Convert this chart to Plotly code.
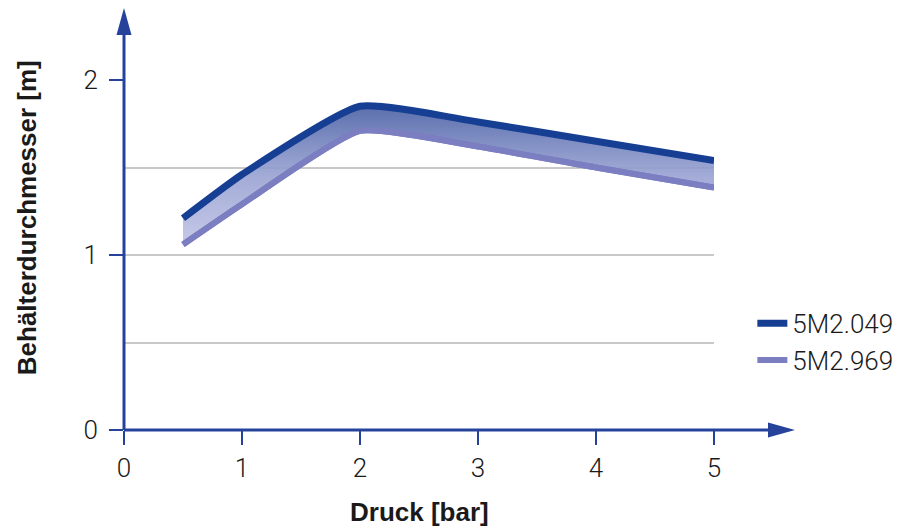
import plotly.graph_objects as go

# data
pressure = [0.5, 1, 2, 3, 4, 5]
diam_5m2_049 = [1.21, 1.46, 1.85, 1.76, 1.65, 1.54]
diam_5m2_969 = [1.06, 1.29, 1.71, 1.62, 1.50, 1.385]
series_names = ["5M2.049", "5M2.969"]
x_ticks = [0, 1, 2, 3, 4, 5]
y_ticks = [0, 1, 2]
y_minor = [0.5, 1.5]

AXIS_BLUE = "#27429b"
DARK = "#163f93"
LIGHT = "#7b7ec0"
TEXT = "#1a1a1a"
FONT = "Roboto"
BOLD_FONT = "Liberation Sans"

fig = go.Figure()

# upper curve
fig.add_trace(go.Scatter(
    x=pressure, y=diam_5m2_049, name=series_names[0], mode="lines",
    line=dict(color=DARK, width=7, shape="spline", smoothing=0.5),
    cliponaxis=False,
))
# band between the curves (no legend entry)
fig.add_trace(go.Scatter(
    x=pressure, y=diam_5m2_969, mode="lines", showlegend=False, hoverinfo="skip",
    line=dict(color=LIGHT, width=6, shape="spline", smoothing=0.5),
    fill="tonexty",
    fillgradient=dict(
        type="vertical",
        colorscale=[[0, "rgba(192,195,229,0.9)"], [0.5, "rgba(152,162,210,0.9)"],
                    [1, "rgba(76,98,166,0.92)"]],
    ),
    cliponaxis=False,
))
# lower curve
fig.add_trace(go.Scatter(
    x=pressure, y=diam_5m2_969, name=series_names[1], mode="lines",
    line=dict(color=LIGHT, width=6, shape="spline", smoothing=0.5),
    cliponaxis=False,
))

# plot area runs 0..5 / 0..2; axes continue past it to arrow tips
x_tip = (795 - 124) / 590
y_tip = (430 - 8) / 350
axis_line = dict(color=AXIS_BLUE, width=3)
shapes = [
    dict(type="line", xref="paper", yref="paper", x0=0, x1=x_tip - 0.03, y0=0, y1=0,
         line=axis_line),
    dict(type="line", xref="paper", yref="paper", x0=0, x1=0, y0=0, y1=y_tip - 0.05,
         line=axis_line),
    dict(type="path", xref="paper", yref="paper", xsizemode="pixel", ysizemode="pixel",
         xanchor=x_tip, yanchor=0, path="M0,0 L-27,7.5 L-27,-7.5 Z",
         fillcolor=AXIS_BLUE, line=dict(width=0)),
    dict(type="path", xref="paper", yref="paper", xsizemode="pixel", ysizemode="pixel",
         xanchor=0, yanchor=y_tip, path="M0,0 L-7.5,-27 L7.5,-27 Z",
         fillcolor=AXIS_BLUE, line=dict(width=0)),
]

# the page body adds an 8px offset, so the figure is 8px smaller
fig.update_layout(
    width=904, height=518,
    margin=dict(l=116, r=198, t=72, b=96),
    paper_bgcolor="white", plot_bgcolor="white",
    font=dict(family=FONT, color=TEXT),
    shapes=shapes,
    showlegend=True,
    legend=dict(x=1.065, xanchor="left", y=0.372, yanchor="top", traceorder="normal",
                font=dict(size=26, family=FONT, weight=300, color=TEXT),
                bgcolor="rgba(0,0,0,0)", tracegroupgap=0),
    annotations=[
        dict(text="<b>Behälterdurchmesser [m]</b>", xref="paper", yref="paper",
             x=-0.164, y=(430 - 218) / 350, xanchor="center", yanchor="middle",
             textangle=-90, showarrow=False,
             font=dict(size=26, family=BOLD_FONT, color=TEXT)),
        dict(text="<b>Druck [bar]</b>", xref="paper", yref="paper",
             x=0.5, y=(430 - 512) / 350, xanchor="center", yanchor="middle",
             showarrow=False,
             font=dict(size=26, family=BOLD_FONT, color=TEXT)),
    ],
)

fig.update_xaxes(
    range=[0, 5], tickvals=x_ticks, ticks="outside", ticklen=14, tickwidth=2,
    tickcolor=AXIS_BLUE, showgrid=False, zeroline=False, showline=False,
    tickfont=dict(size=26, family=FONT, weight=300, color=TEXT),
    ticklabelstandoff=1,
)
fig.update_yaxes(
    range=[0, 2], tickvals=y_ticks, ticks="outside", ticklen=14, tickwidth=2,
    tickcolor=AXIS_BLUE, showgrid=True, gridcolor="#c9c9c9", gridwidth=1.5,
    zeroline=False, showline=False,
    minor=dict(tickvals=y_minor, showgrid=True, gridcolor="#c9c9c9", gridwidth=1.5,
               ticks=""),
    tickfont=dict(size=26, family=FONT, weight=300, color=TEXT),
    ticklabelstandoff=6,
)

fig.write_html("out.html")
